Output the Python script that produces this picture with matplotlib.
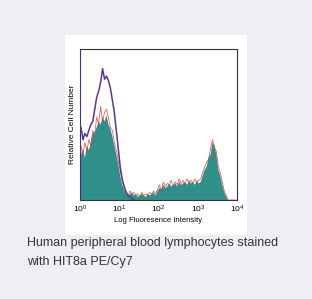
import numpy as np
import matplotlib
matplotlib.use("Agg")
import matplotlib.pyplot as plt

# Histogram counts (relative, 0-100 scale) on 80 log bins from 10^0 to 10^4
stained = [30, 34, 28, 36, 33, 38, 44, 45, 48, 52, 50, 55, 52, 56, 50, 47, 42, 36, 30, 24,
           16, 10, 7, 4, 3, 4, 5, 3, 4, 2, 3, 4, 3, 2, 4, 3, 4, 5, 3, 6,
           8, 7, 10, 8, 9, 11, 9, 10, 11, 9, 12, 10, 11, 12, 10, 13, 11, 12, 10, 13,
           11, 12, 16, 20, 22, 28, 30, 38, 36, 30, 20, 16, 10, 5, 2, 0, 0, 0, 0, 0]
stained_edge = [36, 30, 38, 32, 40, 36, 46, 43, 55, 50, 62, 52, 58, 60, 54, 48, 46, 38, 33, 26,
                19, 12, 8, 6, 3, 6, 4, 5, 3, 4, 2, 5, 3, 4, 3, 5, 4, 6, 4, 7,
                10, 6, 12, 9, 11, 10, 13, 9, 12, 10, 14, 11, 13, 10, 14, 12, 13, 11, 14, 12,
                13, 14, 18, 22, 25, 27, 34, 40, 35, 32, 22, 18, 12, 6, 3, 0, 0, 0, 0, 0]
isotype = [48, 40, 44, 42, 46, 50, 52, 60, 68, 72, 78, 87, 80, 82, 79, 74, 66, 58, 46, 34,
           22, 14, 9, 5, 3, 2, 1, 0, 0, 0, 0, 0, 0, 0, 0, 0, 0, 0, 0, 0,
           0, 0, 0, 0, 0, 0, 0, 0, 0, 0, 0, 0, 0, 0, 0, 0, 0, 0, 0, 0,
           0, 0, 0, 0, 0, 0, 0, 0, 0, 0, 0, 0, 0, 0, 0, 0, 0, 0, 0, 0]
tick_values = [1, 10, 100, 1000, 10000]
tick_labels = [r"$10^0$", r"$10^1$", r"$10^2$", r"$10^3$", r"$10^4$"]

edges = np.logspace(0, 4, len(stained) + 1)
centers = np.sqrt(edges[:-1] * edges[1:])

plt.rcParams['font.family'] = ['Liberation Sans', 'DejaVu Sans']
plt.rcParams['mathtext.fontset'] = 'custom'
plt.rcParams['mathtext.rm'] = 'Liberation Sans'
plt.rcParams['mathtext.it'] = 'Liberation Sans'

W, H = 312, 299
fig = plt.figure(figsize=(W / 100, H / 100), dpi=100)
fig.patch.set_facecolor('#efeef4')

# white panel
panel = fig.add_axes([65 / W, 1 - 235 / H, (247 - 65) / W, (235 - 35) / H])
panel.set_facecolor('white')
panel.set_xticks([]); panel.set_yticks([])
for s in panel.spines.values():
    s.set_visible(False)

ax = fig.add_axes([80 / W, 1 - 200 / H, (237 - 80) / W, (200 - 49) / H])
ax.set_xscale('log')
ax.fill_between(centers, 0, stained, facecolor='#2f8f89', edgecolor='none',
                linewidth=0, zorder=1)
ax.plot(centers, stained_edge, color='#e23b32', lw=0.6, alpha=0.8, zorder=2)
ax.plot(centers[:28], isotype[:28], color='#5b3596', lw=1.1, zorder=3)
ax.set_xlim(1, 10000)
ax.set_ylim(0, 100)
ax.set_xticks(tick_values)
ax.set_xticklabels(tick_labels, fontsize=6)
ax.xaxis.set_minor_locator(matplotlib.ticker.NullLocator())
ax.set_yticks([])
ax.tick_params(axis='x', length=0, pad=3)
for s in ax.spines.values():
    s.set_linewidth(0.8)
    s.set_color('#333333')
ax.spines['left'].set_color('#4a2e86')
ax.set_xlabel('Log Fluoresence Intensity', fontsize=5.5, labelpad=1)
ax.set_ylabel('Relative Cell Number', fontsize=6, labelpad=3)

fig.text(27 / W, 1 - 243 / H, 'Human peripheral blood lymphocytes stained',
         fontsize=9, color='#333333', va='center', ha='left')
fig.text(27 / W, 1 - 262 / H, 'with HIT8a PE/Cy7',
         fontsize=9, color='#333333', va='center', ha='left')

fig.savefig('out.png', dpi=100, facecolor=fig.get_facecolor())
